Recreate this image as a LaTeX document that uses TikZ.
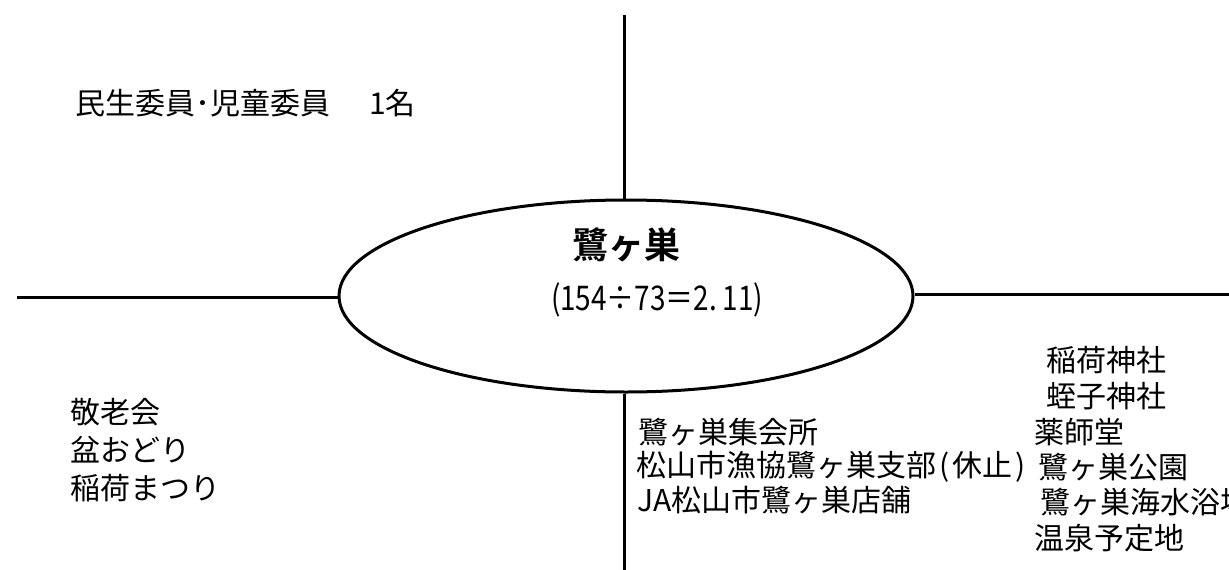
\documentclass[tikz,border=0pt]{standalone}
\usepackage{fontspec}
\usetikzlibrary{shapes.geometric}
\newfontfamily\jp{Noto Sans CJK JP}
\newfontfamily\jpb{Noto Sans CJK JP Bold}
\newfontfamily\jpn[FakeStretch=0.82]{Noto Sans CJK JP}
\begin{document}
\begin{tikzpicture}[x=1pt,y=-1pt,
  lbl/.style={anchor=west,inner sep=0pt,font=\jp\fontsize{30}{34}\selectfont},
  conn/.style={line width=3pt}]
\useasboundingbox (0,0) rectangle (1229,570);
\node[ellipse,draw,line width=3pt,minimum width=574pt,minimum height=192pt,inner sep=0pt] (c) at (626,296) {};
\node[inner sep=0pt,font=\jpb\fontsize{36}{40}\selectfont] (name) at (626,245) {鷺ヶ巣};
\node[inner sep=0pt,font=\jpn\fontsize{34}{38}\selectfont] (ratio) at (657,300) {(154÷73＝2.\,11)};
\coordinate (top) at (624,15);
\coordinate (bot) at (624,570);
\coordinate (lft) at (17,297);
\coordinate (rgt) at (1229,294);
\draw[conn] (top) -- (top |- c.north);
\draw[conn] (bot |- c.south) -- (bot);
\draw[conn] (lft) -- (lft -| c.west);
\draw[conn] (rgt -| c.east) -- (rgt);
\node[lbl] (t1) at (75,103) {民生委員･児童委員\hspace{1.3em}1名};
\node[lbl] (l1) at (70,412) {敬老会};
\node[lbl] (l2) at (70,450) {盆おどり};
\node[lbl] (l3) at (70,488) {稲荷まつり};
\node[lbl] (b1) at (638,432) {鷺ヶ巣集会所};
\node[lbl] (b2) at (636,467) {松山市漁協鷺ヶ巣支部\kern3pt(\kern3pt休止\kern3pt)};
\node[lbl] (b3) at (637,500) {JA松山市鷺ヶ巣店舗};
\node[lbl] (r1) at (1046,360) {稲荷神社};
\node[lbl] (r2) at (1046,396) {蛭子神社};
\node[lbl] (r3) at (1034,432) {薬師堂};
\node[lbl] (r4) at (1038,467) {鷺ヶ巣公園};
\node[lbl] (r5) at (1040,502) {鷺ヶ巣海水浴場};
\node[lbl] (r6) at (1034,538) {温泉予定地};
\end{tikzpicture}
\end{document}
